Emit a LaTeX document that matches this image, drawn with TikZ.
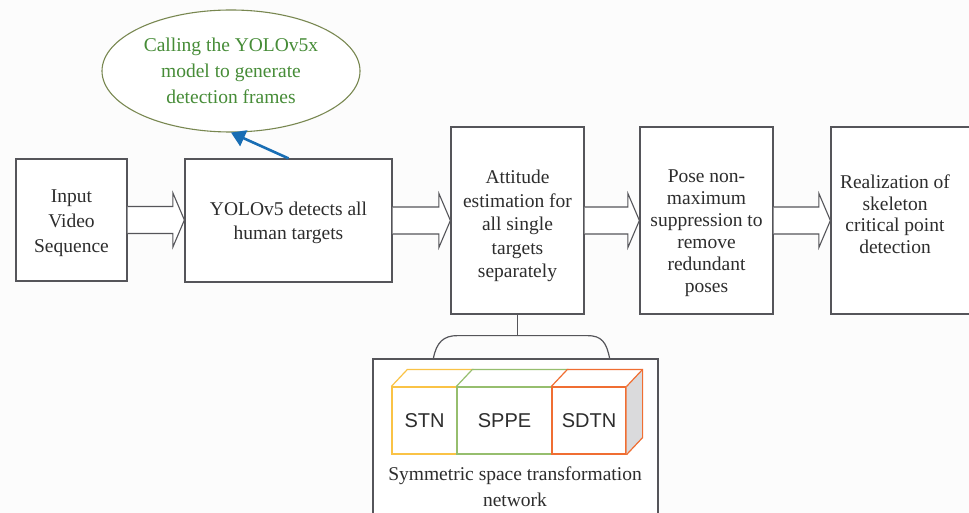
\documentclass[tikz,border=0pt]{standalone}
\usepackage{fontspec}
\setmainfont{Liberation Serif}
\newfontfamily\cubefont{Liberation Sans}
\usetikzlibrary{shapes.geometric,arrows.meta,calc}

\definecolor{ink}{RGB}{45,45,45}
\definecolor{frame}{RGB}{85,85,90}
\definecolor{callgreen}{RGB}{70,140,55}
\definecolor{callrim}{RGB}{120,135,80}
\definecolor{linkblue}{RGB}{25,110,180}
\definecolor{stncol}{RGB}{250,195,70}
\definecolor{sppecol}{RGB}{150,190,110}
\definecolor{sdtncol}{RGB}{240,110,50}
\definecolor{sideface}{RGB}{218,218,220}

\tikzset{
  stage/.style={draw=frame, line width=1.2pt, fill=white, inner sep=0pt},
  stagetext/.style={text=ink, align=center, inner sep=0pt,
    font=\fontsize{19.5}{#1}\selectfont},
  blk/.style={draw=frame, line width=1.1pt, fill=white},
  cube/.style={line width=1.2pt, fill=white, inner sep=0pt, minimum height=67pt,
    text=ink, font=\cubefont\fontsize{20}{24}\selectfont},
}

% hollow block arrow from the east side of #1 to the west side of #2
\newcommand\blockflow[2]{%
  \draw[blk] let \p1=(#1.east), \p2=(#2.west) in
    (\x1,\y1+13.5pt) -- (\x2-11.5pt,\y1+13.5pt) -- (\x2-11.5pt,\y1+27pt) --
    (\x2,\y1) -- (\x2-11.5pt,\y1-27pt) -- (\x2-11.5pt,\y1-13.5pt) -- (\x1,\y1-13.5pt);}

\begin{document}
\begin{tikzpicture}[x=1pt,y=-1pt]
\useasboundingbox (0,0) rectangle (969,513);
\clip (0,0) rectangle (969,513);
\fill[white!98!gray] (0,0) rectangle (969,513);

% pipeline stages
\node[stage, minimum width=111pt, minimum height=122pt] (inp) at (71.5,220) {};
\node[stage, minimum width=207pt, minimum height=123pt] (yolo) at (288.5,220.5) {};
\node[stage, minimum width=133pt, minimum height=187pt] (att) at (517.5,220.5) {};
\node[stage, minimum width=133pt, minimum height=187pt] (pose) at (706.5,220.5) {};
\node[stage, minimum width=150pt, minimum height=187pt] (real) at (906,220.5) {};

\node[stagetext=25] (inptext) at (71.5,223) {Input\\Video\\Sequence};
\node[stagetext=24] (yolotext) at (288.5,222.5) {YOLOv5 detects all\\human targets};
\node[stagetext=23.5] (atttext) at (517.5,226)
  {Attitude\\estimation for\\all single\\targets\\separately};
\node[stagetext=22] (posetext) at (706.5,233)
  {Pose non-\\maximum\\suppression to\\remove\\redundant\\poses};
\node[stagetext=21.5] (realtext) at (895,214)
  {Realization of\\skeleton\\critical point\\detection};

\blockflow{inp}{yolo}
\blockflow{yolo}{att}
\blockflow{att}{pose}
\blockflow{pose}{real}

% detector call
\node[ellipse, draw=callrim, line width=1.1pt, fill=white, minimum width=258pt,
      minimum height=122pt, inner sep=0pt, align=center, text=callgreen,
      font=\fontsize{19.5}{26}\selectfont] (call) at (231,71)
  {Calling the YOLOv5x\\model to generate\\detection frames};
\draw[linkblue, line width=2.6pt, -{Triangle[length=14pt,width=17pt]}]
  (yolo.north) -- (call.south);

% symmetric space transformation network
\node[draw=frame, line width=1.2pt, fill=white, minimum width=285pt,
      minimum height=171pt, inner sep=0pt] (ssn) at (515.5,444.5) {};
\draw[frame, line width=1.2pt] (att.south) -- ++(0,21) coordinate (j);
\draw[frame, line width=1.2pt]
  ($(ssn.north west)+(61,0)$) .. controls +(3,-16) and +(-14,0) .. ($(j)+(-60,0)$)
  -- ($(j)+(70,0)$) .. controls +(14,0) and +(-3,-16) .. ($(ssn.north east)+(-49,0)$);

\node[cube, draw=stncol, minimum width=65pt] (stn) at (424.5,420.5) {STN};
\node[cube, draw=sppecol, minimum width=95pt] (sppe) at (504.5,420.5) {SPPE};
\node[cube, draw=sdtncol, minimum width=74pt] (sdtn) at (589,420.5) {SDTN};
\draw[stncol, line width=1.2pt] (stn.north west) -- ++(16,-17)
  -- ($(stn.north east)+(16,-17)$);
\draw[sppecol, line width=1.2pt] (sppe.north west) -- ++(16,-17)
  -- ($(sppe.north east)+(16,-17)$);
\fill[sideface] (sdtn.north east) -- ++(16,-17) -- ($(sdtn.south east)+(16,-17)$)
  -- (sdtn.south east) -- cycle;
\draw[sdtncol, line width=1.2pt] (sdtn.north west) -- ++(16,-17)
  -- ($(sdtn.north east)+(16,-17)$) -- ($(sdtn.south east)+(16,-17)$)
  -- (sdtn.south east);
\draw[sdtncol, line width=1.2pt] (sdtn.north east) -- ++(16,-17);
\draw[sppecol, line width=1.2pt] (sppe.north west) -- (sppe.south west);
\draw[sdtncol, line width=1.2pt] (sdtn.north west) -- (sdtn.south west);

\node[align=center, text=ink, font=\fontsize{19.5}{26}\selectfont] (cap)
  at (515,487) {Symmetric space transformation\\network};
\end{tikzpicture}
\end{document}
